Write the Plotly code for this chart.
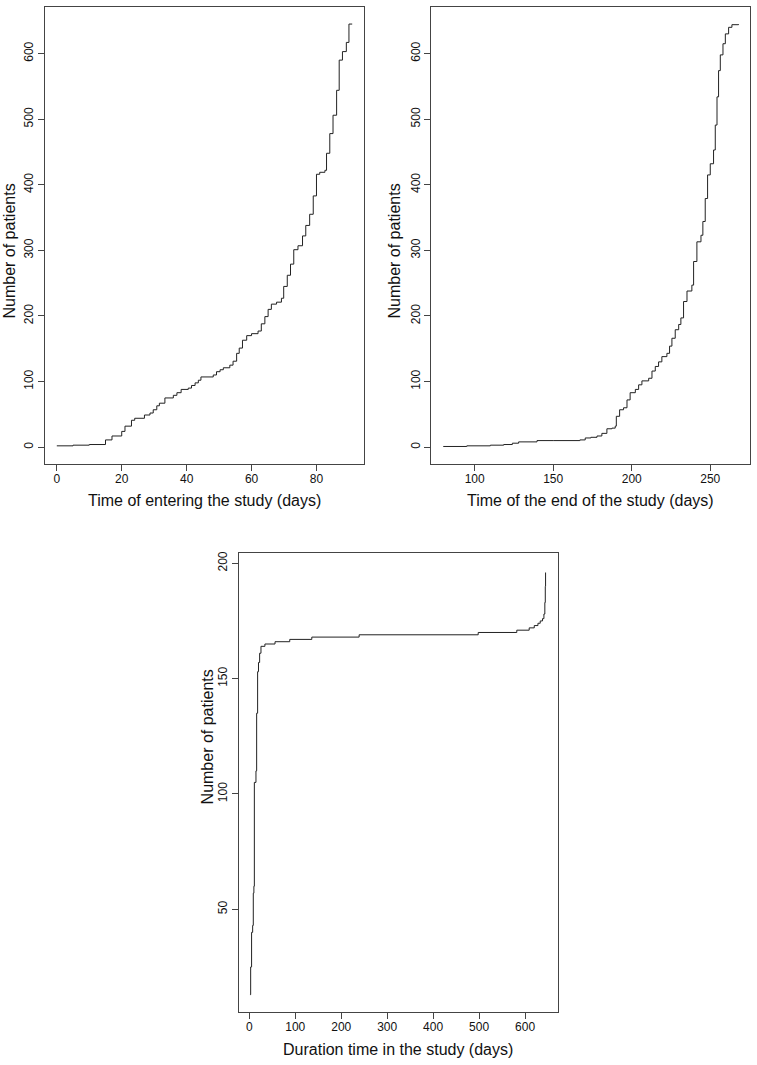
import plotly.graph_objects as go

# Panel 1: time of entering the study (cumulative step curve)
entry_days = [0, 5, 10, 15, 17, 20, 21, 23, 24, 27, 28.7, 29.7, 30.8, 31.6, 33.3, 35.9, 37, 38.3,
              40.5, 41.5, 42.6, 43.6, 44.4, 48.2, 49.2, 50.3, 51.3, 53.3, 54.3, 55.4, 56.2, 57.2,
              58.5, 60, 62, 63, 64.1, 65.1, 66.1, 67.7, 69.2, 69.9, 71, 72, 73, 74.3, 75.7, 76.7,
              77.9, 79, 80, 81, 82.6, 83.1, 84.1, 85.1, 86.2, 87, 88, 89.2, 90, 91]
entry_counts = [2, 3, 4, 11, 17, 24, 32, 41, 44, 49, 52, 57, 63, 67, 75, 79, 83, 88,
                90, 94, 98, 102, 107, 110, 115, 118, 121, 125, 131, 143, 151, 163,
                170, 173, 177, 188, 199, 210, 218, 221, 227, 245, 262, 279, 301, 307, 322, 338,
                355, 383, 416, 419, 422, 448, 478, 506, 544, 590, 603, 617, 645, 645]

# Panel 2: time of the end of the study
end_days = [80, 95, 110, 118.5, 124, 128, 139.7, 150, 167, 170.4, 174, 177.9, 181, 184.2, 187.4,
            189.5, 190.2, 192.3, 194.8, 197, 199, 202.3, 204.4, 206.5, 210.8, 212.9, 215, 217.1,
            219.2, 222.4, 224.1, 225.6, 227.7, 229.9, 231.3, 233, 235.2, 238.3, 239.4, 241.5,
            244.1, 245.3, 246.8, 248.3, 250, 252.1, 253.2, 254.3, 255.3, 256.4, 258.1, 259.6,
            261.7, 263.8, 268]
end_counts = [1, 2, 3, 4, 6, 8, 10, 10, 11, 14, 15, 17, 21, 28, 29,
              32, 47, 57, 60, 72, 83, 88, 95, 101, 105, 116, 123, 130,
              138, 143, 154, 166, 179, 187, 197, 222, 238, 247, 283, 313,
              323, 344, 379, 415, 432, 453, 491, 534, 574, 598, 615, 630,
              640, 644, 645]

# Panel 3: duration time in the study
dur_days = [1.5, 3, 5, 7.3, 8.7, 10, 11, 14.5, 16, 18.1, 20, 22.5, 25.4, 34, 56, 88, 136, 239,
            498, 582, 609, 620, 628, 633, 638, 641, 643, 644, 644.6]
dur_counts = [13, 25, 40, 43, 57, 60, 105, 110, 135, 153, 157, 161, 164, 165, 166, 167, 168, 169,
              170, 171, 172, 173, 174, 175, 176, 178, 183, 190, 196]

W, H = 757, 1065
LINE = "#222222"
FRAME = "#444444"
FONT = "Liberation Sans, Arial, Helvetica, sans-serif"

def px_x(p):
    return p / W

def px_y(p):
    return (H - p) / H

fig = go.Figure()
fig.add_trace(go.Scatter(x=entry_days, y=entry_counts, mode="lines", line=dict(shape="hv", color=LINE, width=1),
                         xaxis="x", yaxis="y", showlegend=False))
fig.add_trace(go.Scatter(x=end_days, y=end_counts, mode="lines", line=dict(shape="hv", color=LINE, width=1),
                         xaxis="x2", yaxis="y2", showlegend=False))
fig.add_trace(go.Scatter(x=dur_days, y=dur_counts, mode="lines", line=dict(shape="hv", color=LINE, width=1),
                         xaxis="x3", yaxis="y3", showlegend=False))

def xax(domain, rng, tickvals, anchor):
    return dict(domain=domain, range=rng, tickvals=tickvals, anchor=anchor, showline=True, mirror=True,
                linecolor=FRAME, linewidth=1, ticks="outside", ticklen=6, tickcolor=FRAME,
                ticklabelstandoff=-3,
                showgrid=False, zeroline=False, tickfont=dict(size=12, color="#111"))

def yax(domain, rng, tickvals, anchor):
    return dict(domain=domain, range=rng, tickvals=tickvals, anchor=anchor, showline=True, mirror=True,
                linecolor=FRAME, linewidth=1, ticks="outside", ticklen=6, tickcolor=FRAME,
                showgrid=False, zeroline=False, tickangle=-90, tickfont=dict(size=12, color="#111"))

top_dom = [px_y(463), px_y(5)]
bot_dom = [px_y(1012.3), px_y(551.7)]

fig.update_layout(
    width=W, height=H, margin=dict(l=0, r=0, t=0, b=0),
    paper_bgcolor="white", plot_bgcolor="white",
    font=dict(family=FONT, color="#111"),
    xaxis=xax([px_x(45), px_x(364)], [-3.64, 94.64], [0, 20, 40, 60, 80], "y"),
    yaxis=yax(top_dom, [-25.9, 671], [0, 100, 200, 300, 400, 500, 600], "x"),
    xaxis2=xax([px_x(431.3), px_x(750.3)], [72.4, 275.5], [100, 150, 200, 250], "y2"),
    yaxis2=yax(top_dom, [-25.9, 671], [0, 100, 200, 300, 400, 500, 600], "x2"),
    xaxis3=xax([px_x(239), px_x(557.7)], [-22.4, 671], [0, 100, 200, 300, 400, 500, 600], "y3"),
    yaxis3=yax(bot_dom, [5.3, 204.6], [50, 100, 150, 200], "x3"),
)

def title(text, x, y, angle=0):
    fig.add_annotation(text=text, x=px_x(x), y=px_y(y), xref="paper", yref="paper", showarrow=False,
                       textangle=angle, font=dict(size=16, family=FONT, color="#111"),
                       xanchor="center", yanchor="middle")

title("Time of entering the study (days)", 204.5, 499)
title("Number of patients", 10, 250, -90)
title("Time of the end of the study (days)", 590.8, 499)
title("Number of patients", 395, 250, -90)
title("Duration time in the study (days)", 398.3, 1049)
title("Number of patients", 207.3, 736.5, -90)

fig.write_html("out.html", config={"displayModeBar": False},
               post_script="document.body.style.margin='0';document.body.style.overflow='hidden';")
